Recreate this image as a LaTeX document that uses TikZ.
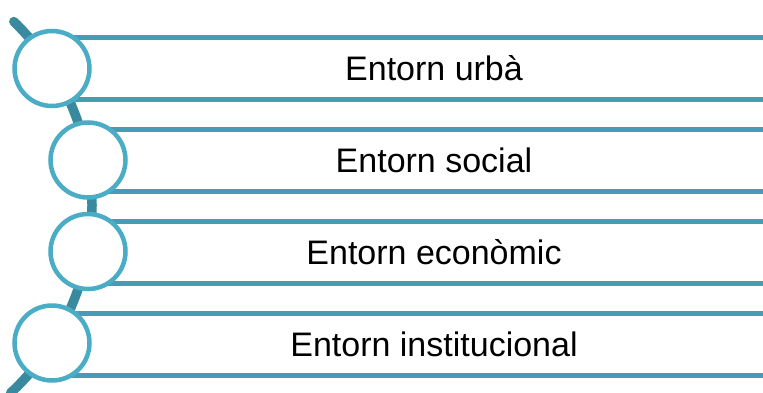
\documentclass[tikz,border=0pt]{standalone}
\usepackage{fontspec}
\setmainfont{Liberation Sans}
\usetikzlibrary{positioning}

\definecolor{ringblue}{HTML}{4BACC6}
\definecolor{bandblue}{HTML}{459DB4}
\definecolor{spineblue}{HTML}{3A8A9F}

\begin{document}
\begin{tikzpicture}[x=1pt,y=1pt,
                    ring/.style={circle,draw=ringblue,line width=4.5pt,fill=white,
                                 minimum size=75pt,inner sep=0pt},
                    band/.style={minimum width=658pt,minimum height=61.5pt,inner sep=0pt,
                                 font=\fontsize{34}{40}\selectfont},
                    bandline/.style={draw=bandblue,line width=5pt},
                    spine/.style={draw=spineblue,line width=9.5pt,line cap=round}]
  \useasboundingbox (0,0) rectangle (763,392);

  \coordinate (o) at (-164,186.25);
  \draw[spine] (o) ++(46:256pt) arc[start angle=46,end angle=-47,radius=256pt];

  \node[band] (b1) at (434,323.5) {Entorn urbà};
  \node[band] (b2) [below=30pt of b1] {Entorn social};
  \node[band] (b3) [below=30pt of b2] {Entorn econòmic};
  \node[band] (b4) [below=30pt of b3] {Entorn institucional};

  \foreach \i in {1,...,4} {
    \draw[bandline] ([xshift=-35pt]b\i.north west) -- (b\i.north east);
    \draw[bandline] ([xshift=-35pt]b\i.south west) -- (b\i.south east);
  }

  \node[ring] (c1) at (52,323.5) {};
  \node[ring] (c2) at (88,232)   {};
  \node[ring] (c3) at (88,140.5) {};
  \node[ring] (c4) at (52,49)    {};
\end{tikzpicture}
\end{document}
